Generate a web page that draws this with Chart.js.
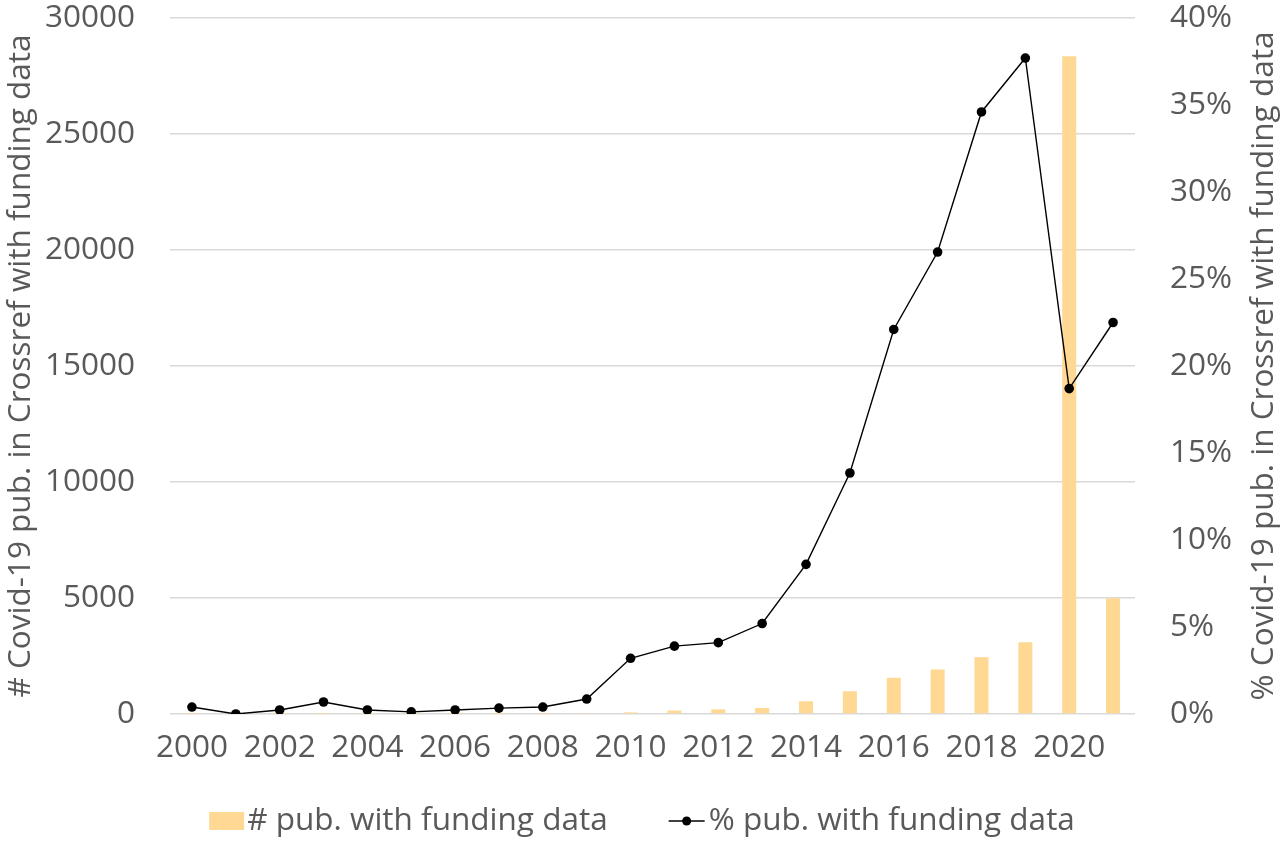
<!DOCTYPE html>
<html>
<head>
<meta charset="utf-8">
<script src="https://cdn.jsdelivr.net/npm/chart.js@4"></script>
<style>
    html, body { margin: 0; padding: 0; background: #ffffff; }
    #wrap { width: 1284px; height: 841px; }
</style>
</head>
<body>
<div id="wrap"><canvas id="fundingChart" width="1284" height="841"></canvas></div>
<script>
const years = ["2000","2001","2002","2003","2004","2005","2006","2007","2008","2009","2010",
               "2011","2012","2013","2014","2015","2016","2017","2018","2019","2020","2021"];
const pubCounts = [5, 2, 5, 10, 5, 4, 6, 8, 10, 20, 70, 150, 200, 260, 550, 980, 1560, 1920, 2450, 3090, 28350, 4990];
const pubShare = [0.40, 0.00, 0.23, 0.69, 0.23, 0.12, 0.23, 0.34, 0.40, 0.86, 3.2, 3.9, 4.1, 5.2,
                  8.6, 13.85, 22.1, 26.55, 34.6, 37.7, 18.7, 22.5];
const countTicks = [0, 5000, 10000, 15000, 20000, 25000, 30000];
const shareTicks = [0, 5, 10, 15, 20, 25, 30, 35, 40];
const leftTitle = "# Covid-19 pub. in Crossref with funding data";
const rightTitle = "% Covid-19 pub. in Crossref with funding data";
const barLabel = "# pub. with funding data";
const lineLabel = "% pub. with funding data";

const fontFamily = "'Open Sans', 'DejaVu Sans', sans-serif";
const fontSize = 31.5;
const textColor = "#595959";
const barColor = "#FFD993";

Chart.defaults.font.family = fontFamily;
Chart.defaults.color = textColor;

// right axis title (bottom-to-top like the left one) and the spreadsheet style legend
const extrasPlugin = {
    id: "extras",
    afterDraw(c){
        let ctx = c.ctx;
        let area = c.chartArea;
        ctx.save();
        ctx.font = `${fontSize}px ${fontFamily}`;
        ctx.fillStyle = textColor;
        ctx.textBaseline = "middle";

        ctx.save();
        ctx.translate(1264, (area.top + area.bottom) / 2);
        ctx.rotate(-Math.PI / 2);
        ctx.textAlign = "center";
        ctx.fillText(rightTitle, 0, 0);
        ctx.restore();

        let y = 821;
        let w1 = ctx.measureText(barLabel).width;
        let w2 = ctx.measureText(lineLabel).width;
        let total = 35 + 3 + w1 + 61 + 36 + 4 + w2;
        let x = c.width / 2 - total / 2;
        ctx.textAlign = "left";

        ctx.fillStyle = barColor;
        ctx.fillRect(x, y - 9, 35, 18);
        x += 38;
        ctx.fillStyle = textColor;
        ctx.fillText(barLabel, x, y);
        x += w1 + 61;

        ctx.strokeStyle = "#000000";
        ctx.lineWidth = 1.5;
        ctx.beginPath();
        ctx.moveTo(x, y);
        ctx.lineTo(x + 36, y);
        ctx.stroke();
        ctx.fillStyle = "#000000";
        ctx.beginPath();
        ctx.arc(x + 18, y, 4.5, 0, Math.PI * 2);
        ctx.fill();
        x += 40;
        ctx.fillStyle = textColor;
        ctx.fillText(lineLabel, x, y);
        ctx.restore();
    },
};

let chart = new Chart("fundingChart", {
    data: {
        labels: years,
        datasets: [
            {
                type: "line",
                label: lineLabel,
                data: pubShare,
                yAxisID: "yRight",
                borderColor: "#000000",
                backgroundColor: "#000000",
                borderWidth: 1.4,
                pointRadius: 4.8,
                pointBackgroundColor: "#000000",
                pointBorderWidth: 0,
                tension: 0,
                order: 0,
            },
            {
                type: "bar",
                label: barLabel,
                data: pubCounts,
                yAxisID: "yLeft",
                backgroundColor: barColor,
                borderWidth: 0,
                barPercentage: 0.32,
                categoryPercentage: 1.0,
                order: 1,
            },
        ],
    },
    plugins: [extrasPlugin],
    options: {
        responsive: false,
        animation: false,
        layout: { padding: { top: 0, left: 0, right: 0, bottom: 77 } },
        plugins: {
            legend: { display: false },
            tooltip: { enabled: false },
        },
        scales: {
            x: {
                grid: { display: false, drawTicks: false },
                border: { display: false },
                ticks: {
                    autoSkip: false,
                    maxRotation: 0,
                    font: { size: fontSize },
                    color: textColor,
                    padding: 15,
                    callback: function(v, i){ return (i % 2 === 0) ? this.getLabelForValue(v) : ""; },
                },
                afterFit: (axis) => {
                    axis.height = 50;
                    axis.paddingLeft = 0;
                    axis.paddingRight = 0;
                },
            },
            yLeft: {
                position: "left",
                min: 0,
                max: 30000,
                afterBuildTicks: (axis) => { axis.ticks = countTicks.map((v) => ({ value: v })); },
                grid: { color: "#D9D9D9", lineWidth: 1.5, drawTicks: false },
                border: { display: false },
                ticks: {
                    font: { size: fontSize },
                    color: textColor,
                    padding: 35,
                    callback: (v) => `${v}`,
                },
                title: {
                    display: true,
                    text: leftTitle,
                    font: { size: fontSize },
                    color: textColor,
                    padding: 2,
                },
                afterFit: (axis) => {
                    axis.width = 170;
                    axis.paddingTop = 18;
                    axis.paddingBottom = 0;
                },
            },
            yRight: {
                position: "right",
                min: 0,
                max: 40,
                afterBuildTicks: (axis) => { axis.ticks = shareTicks.map((v) => ({ value: v })); },
                grid: { display: false, drawTicks: false },
                border: { display: false },
                ticks: {
                    font: { size: fontSize },
                    color: textColor,
                    padding: 35,
                    callback: (v) => `${v}%`,
                },
                afterFit: (axis) => {
                    axis.width = 149;
                    axis.paddingTop = 18;
                    axis.paddingBottom = 0;
                },
            },
        },
    },
});
</script>
</body>
</html>
